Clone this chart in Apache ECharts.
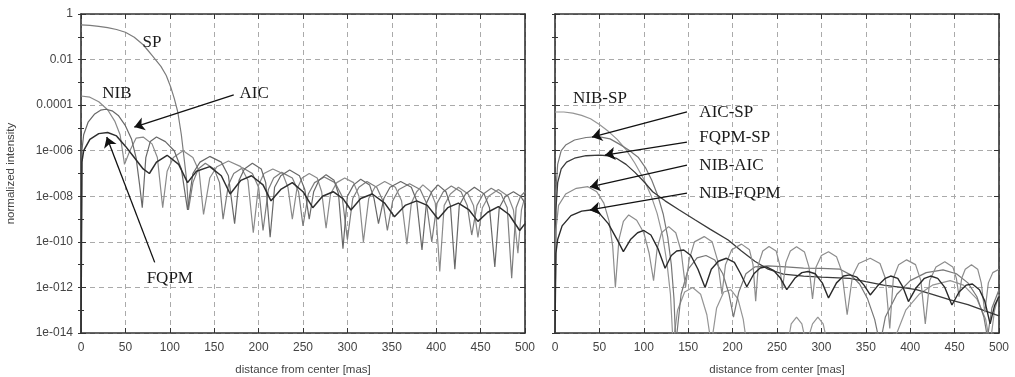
<!DOCTYPE html>
<html><head><meta charset="utf-8">
<script src="https://cdn.jsdelivr.net/npm/echarts@6/dist/echarts.min.js"></script>
<style>html,body{margin:0;padding:0;background:#fff}#c{width:1015px;height:377px}</style>
</head><body><div id="c"></div><script>
// All curves: [distance (mas), log10(normalized intensity)]
const spLog = [[0,-0.48],[10,-0.5],[20,-0.54],[30,-0.6],[40,-0.68],[50,-0.8],[60,-1.02],[70,-1.35],[75,-1.58],[80,-1.82],[90,-2.3],[96,-2.7],[101,-3.2],[105,-3.7],[109,-4.3],[113,-5.3],[116,-6.3],[119,-7.3],[121,-8.6],
[126,-7.4],[132,-6.8],[140,-6.55],[150,-6.8],[156,-7.4],[160,-9.0],
[166,-7.5],[172,-7.0],[182,-6.75],[193,-7.0],[200,-7.6],[205,-9.5],
[211,-7.7],[217,-7.2],[226,-6.95],[238,-7.2],[245,-7.8],[250,-9.3],
[256,-7.9],[263,-7.4],[274,-7.15],[286,-7.4],[294,-8.0],[300,-9.9],
[306,-8.1],[313,-7.6],[322,-7.35],[333,-7.6],[340,-8.2],[345,-9.5],
[351,-8.2],[358,-7.7],[370,-7.45],[382,-7.7],[389,-8.3],[395,-10.0],
[401,-8.3],[408,-7.8],[417,-7.55],[428,-7.8],[435,-8.4],[440,-9.7],
[446,-8.4],[453,-7.9],[462,-7.65],[473,-7.9],[480,-8.5],[485,-11.6],
[490,-8.5],[495,-8.0],[500,-7.8]];

const nibLog = [[0,-3.6],[10,-3.65],[20,-3.85],[30,-4.2],[38,-4.7],[44,-5.3],[49,-6.6],
[55,-6.0],[62,-5.45],[70,-5.4],[80,-5.7],[86,-6.3],[92,-8.5],
[97,-6.9],[104,-6.3],[115,-6.0],[126,-6.3],[133,-6.9],[138,-8.8],
[145,-7.2],[153,-6.7],[166,-6.45],[180,-6.7],[188,-7.3],[194,-9.6],
[200,-7.5],[206,-7.0],[216,-6.8],[227,-7.0],[233,-7.6],[238,-9.0],
[243,-7.7],[249,-7.2],[257,-7.0],[266,-7.2],[271,-7.8],[276,-9.4],
[281,-7.9],[288,-7.4],[297,-7.2],[307,-7.4],[313,-8.0],[318,-10.0],
[324,-8.1],[331,-7.6],[342,-7.35],[354,-7.6],[361,-8.2],[367,-10.1],
[372,-8.3],[378,-7.8],[385,-7.5],[394,-7.8],[399,-8.3],[404,-11.3],
[409,-8.4],[416,-7.9],[425,-7.6],[436,-7.9],[442,-8.4],[447,-9.8],
[452,-8.5],[459,-8.0],[470,-7.7],[481,-8.0],[487,-8.6],[492,-10.5],
[496,-8.6],[500,-8.0]];

const aicLog = [[0,-14],[1,-6.0],[3,-5.3],[8,-4.75],[15,-4.4],[22,-4.22],[28,-4.18],[35,-4.25],[42,-4.45],[50,-4.9],[57,-5.5],[62,-6.3],[66,-7.5],[69,-8.5],
[73,-6.3],[78,-5.6],[85,-5.4],[95,-5.6],[105,-6.0],[113,-6.8],[120,-8.6],
[126,-7.0],[134,-6.5],[145,-6.25],[158,-6.5],[166,-7.1],[173,-9.2],
[178,-7.3],[184,-6.8],[193,-6.55],[203,-6.8],[208,-7.4],[213,-9.8],
[218,-7.6],[225,-7.1],[235,-6.85],[246,-7.1],[252,-7.7],[257,-9.0],
[262,-7.8],[268,-7.3],[276,-7.05],[285,-7.3],[290,-7.9],[295,-10.3],
[300,-8.0],[307,-7.5],[315,-7.25],[325,-7.5],[330,-8.1],[335,-9.2],
[341,-8.1],[348,-7.6],[360,-7.35],[372,-7.6],[378,-8.2],[384,-10.35],
[389,-8.3],[395,-7.8],[402,-7.5],[411,-7.8],[416,-8.4],[421,-11.2],
[426,-8.4],[433,-7.9],[443,-7.6],[454,-7.9],[460,-8.5],[466,-11.1],
[471,-8.5],[478,-8.0],[487,-7.8],[495,-8.0],[500,-8.3]];

const fqpmLog = [[0,-14],[1,-6.5],[3,-6.0],[10,-5.5],[20,-5.25],[30,-5.2],[40,-5.35],[50,-5.8],[60,-6.3],[70,-6.8],[77,-7.0],[85,-6.5],[97,-6.2],[110,-6.6],[120,-7.4],[130,-6.9],[145,-6.7],[158,-7.1],[168,-7.9],[180,-7.3],[192,-7.1],[205,-7.5],[214,-8.2],[225,-7.7],[238,-7.4],[250,-7.8],[261,-8.5],[272,-8.0],[284,-7.8],[295,-8.1],[304,-8.6],[315,-8.1],[328,-7.9],[342,-8.3],[353,-8.9],[365,-8.4],[378,-8.2],[390,-8.4],[402,-9.0],[413,-8.5],[425,-8.3],[437,-8.6],[447,-9.1],[458,-8.7],[470,-8.45],[482,-8.8],[494,-9.5],[500,-9.2]];

const nibSpLog = [[0,-4.3],[10,-4.3],[20,-4.35],[30,-4.45],[40,-4.6],[50,-4.85],[60,-5.15],[70,-5.5],[80,-5.95],[90,-6.55],[100,-7.25],[108,-7.95],[115,-8.75],[121,-9.7],[126,-10.9],[130,-12.3],[133,-14.5],
[138,-13.0],[146,-12.2],[155,-12.0],[164,-12.3],[171,-13.2],[176,-14.5],
[182,-12.9],[190,-12.2],[198,-12.1],[206,-12.5],[212,-13.4],[216,-14.5],
[262,-14.5],[266,-13.6],[272,-13.3],[278,-13.6],[283,-14.5],
[290,-13.6],[296,-13.3],[302,-13.6],[307,-14.5],
[380,-14.5],[395,-13.0],[410,-12.3],[425,-11.9],[445,-11.7],[460,-11.9],[475,-12.5],[485,-13.4],[490,-14.5],[495,-13.0],[500,-12.3]];

const aicSpLog = [[0,-14],[1,-7.8],[3,-6.6],[7,-6.0],[12,-5.75],[22,-5.53],[35,-5.42],[49,-5.38],[62,-5.48],[72,-5.7],[83,-5.97],[94,-6.3],[102,-6.75],[109,-7.3],[116,-8.0],[122,-8.8],[127,-9.8],[131,-11.0],[134,-12.5],[136,-14.5],
[142,-12.3],[150,-11.2],[160,-10.7],[170,-10.6],[180,-10.8],[189,-11.4],[196,-12.3],[201,-13.3],
[207,-12.2],[215,-11.4],[225,-11.1],[240,-11.05],[260,-11.1],[280,-11.15],[300,-11.16],[321,-11.2],[333,-11.45],[343,-11.85],[352,-12.5],[360,-13.4],[366,-14.5],
[372,-13.3],[385,-12.3],[400,-11.7],[418,-11.35],[437,-11.23],[452,-11.4],[465,-11.8],[475,-12.4],[483,-13.3],[487,-14.2],[492,-12.9],[500,-12.1]];

const fqpmSpLog = [[0,-14],[1,-8.6],[3,-7.4],[7,-6.8],[13,-6.5],[22,-6.33],[35,-6.22],[50,-6.19],[60,-6.22],[70,-6.35],[80,-6.6],[90,-6.95],[100,-7.35],[110,-7.8],[124,-8.2],[140,-8.6],[158,-9.04],[175,-9.45],[195,-9.92],[210,-10.4],[225,-10.85],[240,-11.2],[257,-11.42],[280,-11.5],[300,-11.55],[332,-11.6],[350,-11.75],[370,-11.9],[390,-12.0],[407,-12.1],[425,-12.3],[445,-12.55],[465,-12.75],[482,-13.0],[500,-13.25]];

const nibAicLog = [[0,-14],[1,-9.5],[4,-8.4],[12,-7.9],[24,-7.65],[37,-7.58],[47,-7.8],[55,-8.3],[61,-9.1],[65,-10.2],[68,-12.0],
[72,-9.9],[77,-9.1],[83,-8.82],[92,-9.05],[100,-9.6],[106,-10.5],[111,-11.7],
[115,-10.3],[120,-9.6],[128,-9.33],[136,-9.6],[142,-10.4],[147,-12.0],
[151,-10.8],[157,-10.0],[168,-9.77],[177,-10.0],[183,-10.8],[188,-12.3],
[192,-11.0],[199,-10.35],[210,-10.1],[219,-10.35],[223,-11.0],[226,-12.6],
[229,-11.0],[234,-10.4],[241,-10.2],[249,-10.4],[253,-11.0],[256,-12.1],
[260,-10.9],[265,-10.4],[272,-10.21],[281,-10.45],[286,-11.1],[290,-12.5],
[294,-11.1],[300,-10.6],[308,-10.43],[317,-10.65],[323,-11.3],[329,-13.2],
[335,-11.5],[342,-10.95],[355,-10.72],[366,-10.95],[372,-11.6],[377,-13.8],
[381,-11.6],[387,-11.0],[396,-10.79],[406,-11.0],[412,-11.7],[417,-13.6],
[422,-11.7],[429,-11.1],[439,-10.87],[448,-11.1],[452,-11.6],[455,-12.4],
[458,-11.6],[462,-11.2],[469,-11.0],[476,-11.2],[480,-11.8],[484,-13.1],
[488,-11.8],[493,-11.35],[500,-11.2]];

const nibFqpmLog = [[0,-14],[1,-10.5],[3,-9.9],[8,-9.3],[18,-8.85],[30,-8.65],[40,-8.6],[50,-8.75],[60,-9.2],[70,-9.9],[77,-10.43],[85,-9.9],[93,-9.6],[100,-9.5],[108,-9.7],[116,-10.3],[124,-11.16],[131,-10.6],[137,-10.4],[145,-10.36],[153,-10.6],[161,-11.2],[169,-12.0],[176,-11.2],[184,-10.85],[193,-10.72],[202,-10.9],[209,-11.4],[216,-11.97],
[224,-11.4],[231,-11.15],[238,-11.1],[246,-11.25],[254,-11.6],[261,-12.1],[270,-11.6],[278,-11.35],[285,-11.3],[293,-11.4],[301,-11.8],[308,-12.46],[317,-11.8],[325,-11.5],[332,-11.45],[340,-11.55],[348,-11.9],[355,-12.33],[364,-11.9],[372,-11.6],[378,-11.5],[386,-11.6],[392,-12.0],[398,-12.62],[407,-12.0],[416,-11.6],[423,-11.5],[431,-11.6],[439,-12.0],[447,-12.77],[455,-12.2],[463,-11.9],[470,-11.85],[478,-12.1],[484,-12.6],[490,-13.6],[495,-12.8],[500,-12.4]];

const xTitle = 'distance from center [mas]';
const yTitle = 'normalized intensity';

const toPts = a => a.map(p => [p[0], Math.pow(10, p[1])]);
const expLabel = v => {
  const e = Math.round(Math.log10(v));
  if (e === 0) return '1';
  if (e === -2) return '0.01';
  if (e === -4) return '0.0001';
  return '1e-' + String(-e).padStart(3, '0');
};
const P = e => Math.pow(10, e);

const axisColor = '#333333';
const gridLine = {show: true, lineStyle: {color: '#aaaaaa', width: 1, type: [5, 4]}};
const tickFont = {color: '#444', fontSize: 12, fontFamily: 'Liberation Sans'};

function xAxes(gi) {
  return [
    {type: 'value', gridIndex: gi, min: 0, max: 500, interval: 50, position: 'bottom',
     axisLine: {show: true, onZero: false, lineStyle: {color: axisColor, width: 1.6}},
     axisTick: {show: true, inside: true, length: 5, lineStyle: {color: axisColor}},
     axisLabel: Object.assign({margin: 9}, tickFont),
     splitLine: gridLine,
     name: xTitle, nameLocation: 'middle', nameGap: 31,
     nameTextStyle: {color: '#444', fontSize: 11.5, fontFamily: 'Liberation Sans'}},
    {type: 'value', gridIndex: gi, min: 0, max: 500, interval: 50, position: 'top',
     axisLine: {show: true, onZero: false, lineStyle: {color: axisColor, width: 1.6}},
     axisTick: {show: true, inside: true, length: 5, lineStyle: {color: axisColor}},
     axisLabel: {show: false}, splitLine: {show: false}}
  ];
}
function yAxes(gi, labels) {
  const base = {type: 'log', logBase: 10, gridIndex: gi, min: 1e-14, max: 1};
  return [
    Object.assign({}, base, {position: 'left', interval: 2,
      axisLine: {show: true, onZero: false, lineStyle: {color: axisColor, width: 1.6}},
      axisTick: {show: true, inside: true, length: 5, lineStyle: {color: axisColor}},
      axisLabel: Object.assign({show: labels, margin: 8, formatter: expLabel}, tickFont),
      splitLine: gridLine,
      name: labels ? yTitle : '', nameLocation: 'middle', nameGap: 64, nameRotate: 90,
      nameTextStyle: {color: '#444', fontSize: 11.5, fontFamily: 'Liberation Sans'}}),
    Object.assign({}, base, {position: 'left', interval: 1,
      axisLine: {show: false}, axisTick: {show: true, inside: true, length: 3, lineStyle: {color: axisColor}},
      axisLabel: {show: false}, splitLine: {show: false}}),
    Object.assign({}, base, {position: 'right', interval: 2,
      axisLine: {show: true, onZero: false, lineStyle: {color: axisColor, width: 1.6}},
      axisTick: {show: true, inside: true, length: 5, lineStyle: {color: axisColor}},
      axisLabel: {show: false}, splitLine: {show: false}}),
    Object.assign({}, base, {position: 'right', interval: 1,
      axisLine: {show: false}, axisTick: {show: true, inside: true, length: 3, lineStyle: {color: axisColor}},
      axisLabel: {show: false}, splitLine: {show: false}})
  ];
}

const arrowStyle = {silent: true, symbol: ['none', 'arrow'], symbolSize: 10,
  lineStyle: {color: '#111', width: 1.3, type: 'solid'}, label: {show: false}, emphasis: {disabled: true}};
const textMP = (pos, items) => ({silent: true, symbol: 'circle', symbolSize: 1,
  itemStyle: {color: 'rgba(0,0,0,0)'},
  label: {show: true, position: pos, distance: 0, formatter: '{b}', color: '#1a1a1a',
          fontFamily: 'Liberation Serif', fontSize: 17},
  data: items});

function line(name, data, xi, yi, color, width, extra) {
  return Object.assign({type: 'line', name: name, data: toPts(data), xAxisIndex: xi, yAxisIndex: yi,
    showSymbol: false, symbol: 'none', clip: true, animation: false,
    lineStyle: {color: color, width: width}, emphasis: {disabled: true}}, extra || {});
}

const option = {
  animation: false,
  backgroundColor: '#fff',
  grid: [
    {left: 81, top: 14, width: 444, height: 319, outerBoundsMode: 'none', containLabel: false},
    {left: 555, top: 14, width: 444, height: 319, outerBoundsMode: 'none', containLabel: false}
  ],
  xAxis: xAxes(0).concat(xAxes(1)),
  yAxis: yAxes(0, true).concat(yAxes(1, false)),
  series: [
    line('SP', spLog, 0, 0, '#7c7c7c', 1.2, {
      markPoint: textMP('inside', [
        {name: 'SP', coord: [80, P(-1.27)]},
        {name: 'NIB', coord: [40.5, P(-3.47)]},
        {name: 'AIC', coord: [195, P(-3.47)]},
        {name: 'FQPM', coord: [100, P(-11.6)]}
      ])}),
    line('NIB', nibLog, 0, 0, '#8a8a8a', 1.2),
    line('AIC', aicLog, 0, 0, '#686868', 1.2, {
      markLine: Object.assign({data: [[{coord: [172, P(-3.55)]}, {coord: [60, P(-4.96)]}]]}, arrowStyle)}),
    line('FQPM', fqpmLog, 0, 0, '#2e2e2e', 1.5, {
      markLine: Object.assign({data: [[{coord: [83, P(-10.9)]}, {coord: [29, P(-5.4)]}]]}, arrowStyle)}),

    line('NIB-SP', nibSpLog, 2, 4, '#959595', 1.2, {
      markPoint: textMP('right', [
        {name: 'AIC-SP', coord: [162, P(-4.34)]},
        {name: 'FQPM-SP', coord: [162, P(-5.44)]},
        {name: 'NIB-AIC', coord: [162, P(-6.63)]},
        {name: 'NIB-FQPM', coord: [162, P(-7.86)]}
      ])}),
    line('AIC-SP', aicSpLog, 2, 4, '#777777', 1.2, {
      markPoint: textMP('inside', [{name: 'NIB-SP', coord: [50.7, P(-3.69)]}]),
      markLine: Object.assign({data: [[{coord: [148.6, P(-4.30)]}, {coord: [41.7, P(-5.40)]}]]}, arrowStyle)}),
    line('FQPM-SP', fqpmSpLog, 2, 4, '#3a3a3a', 1.3, {
      markLine: Object.assign({data: [[{coord: [148.6, P(-5.62)]}, {coord: [56.3, P(-6.19)]}]]}, arrowStyle)}),
    line('NIB-AIC', nibAicLog, 2, 4, '#8c8c8c', 1.2, {
      markLine: Object.assign({data: [[{coord: [148.6, P(-6.63)]}, {coord: [39.4, P(-7.59)]}]]}, arrowStyle)}),
    line('NIB-FQPM', nibFqpmLog, 2, 4, '#2a2a2a', 1.4, {
      markLine: Object.assign({data: [[{coord: [148.6, P(-7.86)]}, {coord: [39.4, P(-8.60)]}]]}, arrowStyle)})
  ]
};
const chart = echarts.init(document.getElementById('c'));
chart.setOption(option);
</script></body></html>
